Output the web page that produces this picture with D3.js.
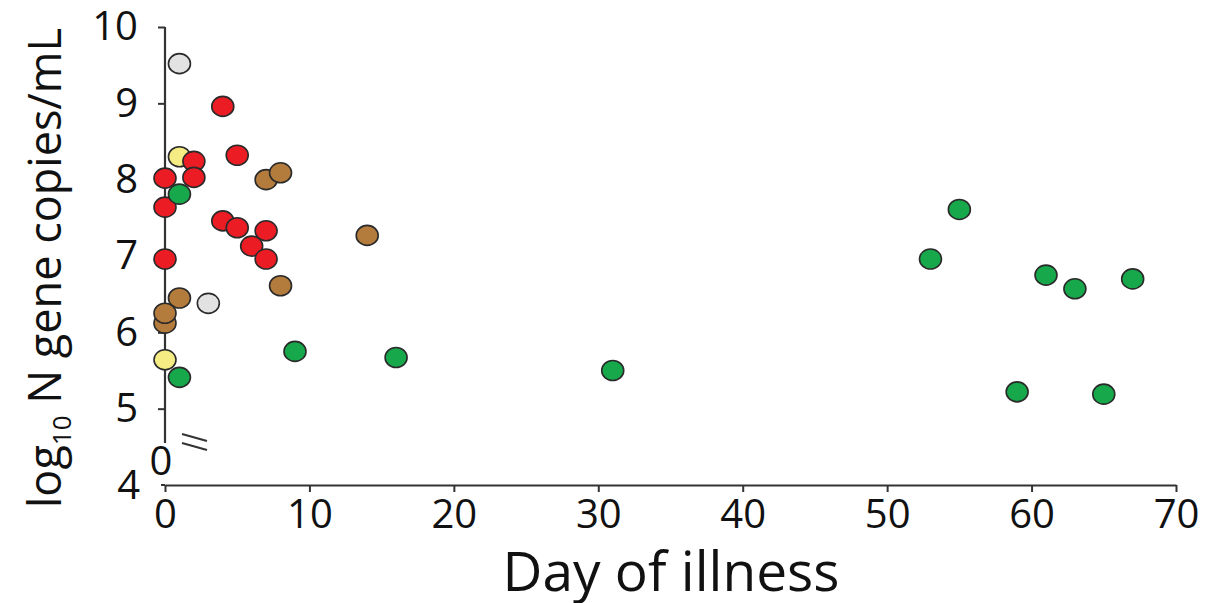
<!DOCTYPE html>
<html>
<head>
<meta charset="utf-8">
<script src="https://cdn.jsdelivr.net/npm/d3@7"></script>
<style>
	body { margin: 0; background: #fff; }
	svg { display: block; }
	text { font-family: "Open Sans", "Liberation Sans", sans-serif; fill: #111; }
</style>
</head>
<body>
<svg id="chart" width="1209" height="603"></svg>
<script>
	"use strict";

	// group of each patient sample, by marker colour
	var groups = ["gray", "red", "yellow", "red", "red", "red", "red", "brown", "brown", "red",
		"red", "red", "red", "red", "red", "red", "brown", "brown", "brown", "gray",
		"brown", "brown", "green", "yellow", "green", "green", "green", "green",
		"green", "green", "green", "green", "green", "green", "green"];
	var days = [1, 4, 1, 2, 5, 0, 2, 7, 8, 0,
		4, 5, 7, 6, 7, 0, 14, 8, 1, 3,
		0, 0, 1, 0, 1, 9, 16, 31,
		53, 55, 61, 63, 67, 59, 65];
	var loads = [9.52, 8.96, 8.30, 8.24, 8.32, 8.02, 8.03, 8.00, 8.09, 7.64,
		7.46, 7.37, 7.33, 7.13, 6.96, 6.96, 7.27, 6.61, 6.45, 6.38,
		6.12, 6.25, 7.81, 5.64, 5.41, 5.75, 5.67, 5.50,
		6.96, 7.61, 6.75, 6.57, 6.70, 5.22, 5.19];
	var xTicks = [0, 10, 20, 30, 40, 50, 60, 70];
	var yTicks = [5, 6, 7, 8, 9, 10];

	var colours = {
		gray: "#e2e2e2",
		red: "#ec1c24",
		yellow: "#f5ec84",
		brown: "#b47c3c",
		green: "#17a84b"
	};

	var svg = d3.select("#chart"),
		axisColour = "#333",
		originX = 165,
		breakY = 443;

	var x = d3.scaleLinear().domain([0, 70]).range([originX, 1176]),
		y = d3.scaleLinear().domain([4, 10]).range([485, 27]);

	// y axis line, cut above the break
	svg.append("line")
		.attr("x1", originX).attr("x2", originX)
		.attr("y1", y(10)).attr("y2", breakY)
		.attr("stroke", axisColour).attr("stroke-width", 2.2);

	var yAxis = svg.append("g")
		.attr("transform", "translate(" + originX + ",0)")
		.call(d3.axisLeft(y).tickValues(yTicks).tickFormat(d3.format("d")).tickSize(7).tickPadding(20));
	yAxis.select(".domain").remove();
	yAxis.selectAll(".tick line").attr("stroke", axisColour).attr("stroke-width", 2);
	yAxis.selectAll(".tick text").style("font-size", "40px").attr("fill", "#111");

	// x axis
	var xAxis = svg.append("g")
		.attr("transform", "translate(0," + y(4) + ")")
		.call(d3.axisBottom(x).tickValues(xTicks).tickFormat(d3.format("d")).tickSize(7).tickPadding(8).tickSizeOuter(0));
	xAxis.select(".domain").attr("stroke", axisColour).attr("stroke-width", 2.2);
	xAxis.selectAll(".tick line").attr("stroke", axisColour).attr("stroke-width", 2);
	xAxis.selectAll(".tick text").style("font-size", "40px").attr("fill", "#111");

	// small left tick and "4" at the bottom of the y range
	svg.append("line")
		.attr("x1", originX - 4).attr("x2", originX)
		.attr("y1", y(4)).attr("y2", y(4))
		.attr("stroke", axisColour).attr("stroke-width", 2);
	svg.append("text")
		.attr("x", originX - 25).attr("y", y(4) + 14)
		.attr("text-anchor", "end")
		.style("font-size", "40px")
		.text("4");

	// "0" under the break and the break marks
	svg.append("text")
		.attr("x", originX - 4).attr("y", breakY + 32)
		.attr("text-anchor", "middle")
		.style("font-size", "40px")
		.text("0");
	[0, 9].forEach(function(dy) {
		svg.append("line")
			.attr("x1", originX + 17).attr("y1", breakY - 9 + dy)
			.attr("x2", originX + 42).attr("y2", breakY - 2 + dy)
			.attr("stroke", axisColour).attr("stroke-width", 2);
	});

	// points
	var points = days.map(function(d, i) {
		return { day: d, load: loads[i], group: groups[i] };
	});

	svg.append("g")
		.selectAll("ellipse")
		.data(points)
		.enter().append("ellipse")
			.attr("cx", function(d) { return x(d.day); })
			.attr("cy", function(d) { return y(d.load); })
			.attr("rx", 11)
			.attr("ry", 10)
			.attr("fill", function(d) { return colours[d.group]; })
			.attr("stroke", "#2a2a2a")
			.attr("stroke-width", 1.6);

	// axis titles
	svg.append("text")
		.attr("x", 671)
		.attr("y", 591)
		.attr("text-anchor", "middle")
		.style("font-size", "55px")
		.text("Day of illness");

	var yTitle = svg.append("text")
		.attr("transform", "translate(61,268) rotate(-90)")
		.attr("text-anchor", "middle")
		.style("font-size", "45px");
	yTitle.append("tspan").text("log");
	yTitle.append("tspan").attr("dy", 10).style("font-size", "26px").text("10");
	yTitle.append("tspan").attr("dy", -10).text(" N gene copies/mL");
</script>
</body>
</html>
